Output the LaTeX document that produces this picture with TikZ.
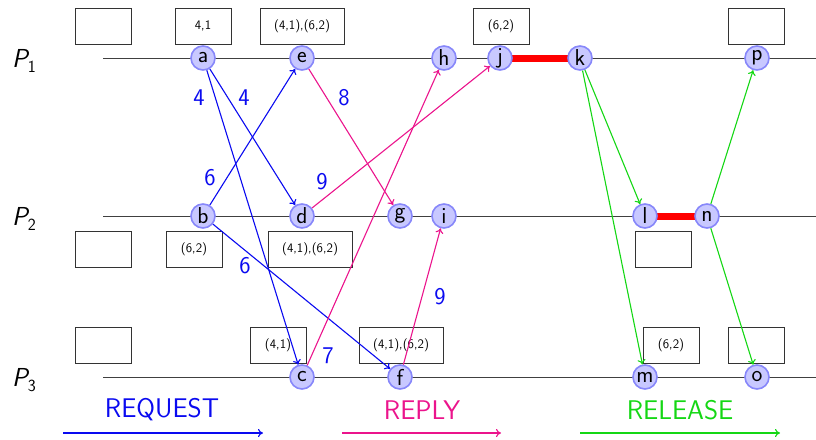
\documentclass[tikz,border=0pt]{standalone}
\usetikzlibrary{arrows.meta}
\definecolor{reqblue}{RGB}{10,10,240}
\definecolor{reppink}{RGB}{235,20,140}
\definecolor{relgreen}{RGB}{20,215,20}
\definecolor{evfill}{RGB}{200,200,255}
\definecolor{evdraw}{RGB}{135,135,250}
\newcommand{\procname}[1]{{\sffamily\itshape P}\raisebox{-5pt}{\sffamily\fontsize{17}{17}\selectfont #1}}
\begin{document}
\begin{tikzpicture}[x=1pt,y=-1pt,
  ev/.style={circle,fill=evfill,draw=evdraw,line width=1.6pt,minimum size=24pt,inner sep=0pt,
    font=\sffamily\fontsize{23}{23}\selectfont},
  qbox/.style={draw=black!80,line width=0.8pt,minimum width=56pt,minimum height=36pt,inner sep=1pt,
    font=\sffamily\fontsize{13}{13}\selectfont},
  wbox/.style={qbox,minimum width=84pt},
  num/.style={text=reqblue,font=\sffamily\fontsize{24}{24}\selectfont,inner sep=0pt},
  proc/.style={font=\fontsize{26}{26}\selectfont,inner sep=0pt},
  tl/.style={black!75,line width=0.8pt,-{To[length=4pt,width=6pt]}},
  msg/.style={line width=1.1pt,-{To[length=5pt,width=8pt]}},
  req/.style={msg,reqblue},
  rep/.style={msg,reppink},
  rel/.style={msg,relgreen},
  cs/.style={red,line width=7pt},
  legend/.style={font=\sffamily\fontsize{27}{27}\selectfont,inner sep=0pt}
]
\useasboundingbox (0,0) rectangle (816,439);
% process labels
\node[proc] (P1) at (24,61) {\procname{1}};
\node[proc] (P2) at (24,219) {\procname{2}};
\node[proc] (P3) at (24,380) {\procname{3}};
% timelines
\coordinate (s1) at (103,58); \coordinate (e1) at (823,58);
\coordinate (s2) at (103,216); \coordinate (e2) at (823,216);
\coordinate (s3) at (103,377); \coordinate (e3) at (823,377);
\draw[tl] (s1) -- (e1);
\draw[tl] (s2) -- (e2);
\draw[tl] (s3) -- (e3);
% red critical sections (drawn before nodes)
\coordinate (jk1) at (512,58); \coordinate (jk2) at (568,58);
\coordinate (ln1) at (657,216); \coordinate (ln2) at (695,216);
\draw[cs] (jk1) -- (jk2);
\draw[cs] (ln1) -- (ln2);
% events
\node[ev] (a) at (203,58) {a};
\node[ev] (e) at (302,58) {e};
\node[ev] (h) at (444,58) {h};
\node[ev] (j) at (500,58) {j};
\node[ev] (k) at (580,58) {k};
\node[ev] (p) at (757,58) {p};
\node[ev] (b) at (203,216) {b};
\node[ev] (d) at (302,216) {d};
\node[ev] (g) at (400,216) {g};
\node[ev] (i) at (444,216) {i};
\node[ev] (l) at (645,216) {l};
\node[ev] (n) at (707,216) {n};
\node[ev] (c) at (302,377) {c};
\node[ev] (f) at (400,377) {f};
\node[ev] (m) at (645,377) {m};
\node[ev] (o) at (757,377) {o};
% queue boxes
\node[qbox] (q1) at (103,26) {};
\node[qbox] (q2) at (203,26) {4,1};
\node[wbox] (q3) at (302,26) {(4,1),(6,2)};
\node[qbox] (q4) at (501,26) {(6,2)};
\node[qbox] (q5) at (756,26) {};
\node[qbox] (q6) at (103,249) {};
\node[qbox] (q7) at (194,249) {(6,2)};
\node[wbox] (q8) at (310,249) {(4,1),(6,2)};
\node[qbox] (q9) at (663,249) {};
\node[qbox] (q10) at (103,345) {};
\node[qbox] (q11) at (278,345) {(4,1)};
\node[wbox] (q12) at (401,345) {(4,1),(6,2)};
\node[qbox] (q13) at (671,345) {(6,2)};
\node[qbox] (q14) at (756,345) {};
% request messages
\draw[req] (a) -- (d);
\draw[req] (a) -- (c);
\draw[req] (b) -- (e);
\draw[req] (b) -- (f);
% reply messages
\draw[rep] (e) -- (g);
\draw[rep] (d) -- (j);
\draw[rep] (c) -- (h);
\draw[rep] (f) -- (i);
% release messages
\draw[rel] (k) -- (l);
\draw[rel] (k) -- (m);
\draw[rel] (n) -- (p);
\draw[rel] (n) -- (o);
% timestamps
\node[num] (t1) at (199,98) {4};
\node[num] (t2) at (244,98) {4};
\node[num] (t3) at (344,98) {8};
\node[num] (t4) at (210,178) {6};
\node[num] (t5) at (322,182) {9};
\node[num] (t6) at (245,266) {6};
\node[num] (t7) at (328,356) {7};
\node[num] (t8) at (440,297) {9};
% legend
\node[legend,text=reqblue] (L1) at (162,410) {REQUEST};
\node[legend,text=reppink] (L2) at (422,410) {REPLY};
\node[legend,text=relgreen] (L3) at (680,410) {RELEASE};
\coordinate (a1s) at (63,433); \coordinate (a1e) at (263,433);
\coordinate (a2s) at (342,433); \coordinate (a2e) at (501,433);
\coordinate (a3s) at (580,433); \coordinate (a3e) at (780,433);
\draw[req] (a1s) -- (a1e);
\draw[rep] (a2s) -- (a2e);
\draw[rel] (a3s) -- (a3e);
\end{tikzpicture}
\end{document}
